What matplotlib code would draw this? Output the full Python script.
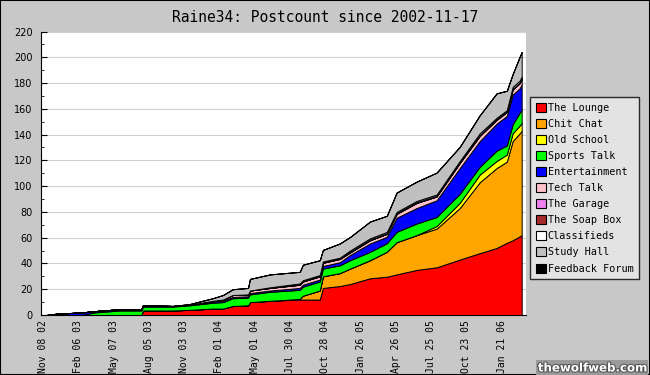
import matplotlib
matplotlib.use("Agg")
import matplotlib.pyplot as plt
import matplotlib.dates as mdates
import matplotlib.patheffects as pe
from matplotlib.patches import Rectangle
import numpy as np
import datetime as dt

title = "Raine34: Postcount since 2002-11-17"

dates = ["2002-11-17", "2002-12-13", "2003-02-15", "2003-03-20", "2003-05-23",
         "2003-07-17", "2003-07-21", "2003-10-05", "2003-11-17", "2004-01-15",
         "2004-02-10", "2004-03-06", "2004-04-14", "2004-04-19", "2004-06-09",
         "2004-08-24", "2004-09-01", "2004-10-14", "2004-10-22", "2004-12-04",
         "2004-12-30", "2005-02-19", "2005-04-03", "2005-04-28", "2005-06-18",
         "2005-08-08", "2005-10-06", "2005-11-26", "2006-01-08", "2006-02-03",
         "2006-02-18", "2006-03-08", "2006-03-13"]

lounge = [0, 0, 0, 0, 0, 0, 3.5, 3.5, 4, 5, 5, 7, 7.5, 10, 11, 12, 12, 12, 21, 22.5,
          24, 28.5, 29.7, 31.5, 35, 37, 43, 48, 52, 56, 58, 61, 62]
chit_chat = [0, 0, 0, 0, 0, 0, 0, 0, 0, 0, 0, 0, 0, 0, 0, 0.5, 3, 7, 9, 10,
             12, 14, 19.4, 25, 27, 30, 40, 55, 62, 63, 77, 80, 81]
old_school = [0, 0, 0, 0, 0, 0, 0, 0, 0, 0, 0, 0, 0, 0, 0, 0, 0, 0, 0, 0,
              0, 0, 0, 0, 0, 2, 4, 6, 5.5, 5.5, 6, 6, 6]
sports_talk = [0, 0, 0, 2, 3.5, 3.5, 3, 3, 3.5, 4.5, 5, 6, 6, 6, 7, 7, 7, 7, 6, 6,
               6.5, 6.5, 6.6, 8, 9, 7, 7, 6, 8, 7, 7, 10, 10]
entertainment = [0, 1, 2, 1, 1, 1, 1, 0.5, 0.5, 1, 1, 1, 1, 1, 1, 1.5, 1.5, 1.5, 2, 2.5,
                 4, 6.5, 5, 11, 12, 13, 20, 20, 21, 23, 23, 19, 20]
tech_talk = [0, 0, 0, 0, 0, 0, 0, 0, 0, 0.5, 1, 1.5, 1.5, 2, 2, 2.5, 2.5, 2.5, 2.5, 2.5,
             2, 2.5, 2.3, 3, 4, 3, 4, 4, 3, 3, 4, 4, 4]
the_garage = [0] * 33
soap_box = [0, 0, 0, 0, 0, 0, 0, 0, 0, 0, 0, 0, 0, 0, 0, 0.5, 0.5, 0.5, 0.5, 0.5,
            0.5, 0.5, 0.5, 0.5, 0.5, 0.5, 0.5, 0.5, 0.5, 0.5, 0.5, 0.5, 0.5]
classifieds = [0, 0, 0, 0, 0, 0, 0, 0, 0, 0, 0, 0, 0, 0, 0.5, 0.5, 0.5, 0.5, 0.5, 0.5,
               1, 1, 1, 1, 1, 1, 1, 1.5, 1, 1, 1.5, 1.5, 1.5]
study_hall = [0, 0, 0, 0, 0, 0, 0, 0, 0.5, 2, 3.5, 4.5, 5, 9, 10, 9, 12, 11.5, 9, 11,
              10.5, 13, 12.5, 15, 15, 17, 11, 14, 19, 15, 10, 18.5, 19]
feedback = [0] * 33

series_names = ["The Lounge", "Chit Chat", "Old School", "Sports Talk", "Entertainment",
                "Tech Talk", "The Garage", "The Soap Box", "Classifieds", "Study Hall",
                "Feedback Forum"]
series = [lounge, chit_chat, old_school, sports_talk, entertainment, tech_talk,
          the_garage, soap_box, classifieds, study_hall, feedback]
colors = ["#ff0000", "#ffa500", "#ffff00", "#00ff00", "#0000ff", "#ffc0cb",
          "#ee82ee", "#a52a2a", "#ffffff", "#c0c0c0", "#000000"]

tick_start = "2002-11-08"
tick_step_days = 90
tick_count = 14

bg = "#c8c8c8"
fig = plt.figure(figsize=(6.5, 3.75), dpi=100, facecolor=bg)
ax = fig.add_axes([41/650, 1-315/375, 485/650, (315-31.5)/375])
ax.set_facecolor("white")
ax.set_axisbelow(True)

x = [dt.datetime.strptime(d, "%Y-%m-%d") for d in dates]
ax.stackplot(x, *series, colors=colors, edgecolor="black", linewidth=0.7, zorder=2)

ax.set_ylim(0, 220)
ax.set_xlim(dt.datetime(2002, 11, 3), dt.datetime(2006, 3, 24))
ax.set_yticks(np.arange(0, 221, 20))
ax.set_yticks(np.arange(0, 221, 10), minor=True)
ax.yaxis.grid(True, which="major", color="#d0d0d0", linewidth=0.8, zorder=0.5)

t0 = dt.datetime.strptime(tick_start, "%Y-%m-%d")
ticks = [t0 + dt.timedelta(days=tick_step_days * i) for i in range(tick_count)]
ax.set_xticks(ticks)
ax.xaxis.set_major_formatter(mdates.DateFormatter("%b %d %y"))
for lab in ax.get_xticklabels():
    lab.set_rotation(90)
    lab.set_fontfamily("DejaVu Sans Mono")
    lab.set_fontsize(7)
ax.tick_params(axis="x", length=0, pad=4)
ax.tick_params(axis="y", which="major", direction="in", length=4, labelsize=7, pad=6)
ax.tick_params(axis="y", which="minor", direction="in", length=2)
for lab in ax.get_yticklabels():
    lab.set_fontfamily("DejaVu Sans")

for s in ["top", "right"]:
    ax.spines[s].set_visible(False)
ax.spines["left"].set_color("black")
ax.spines["bottom"].set_color("black")
ax.spines["left"].set_zorder(3)
ax.spines["bottom"].set_zorder(3)

fig.text(0.5, 1-18/375, title, ha="center", va="center",
         fontfamily="DejaVu Sans Mono", fontsize=10.5)

handles = [Rectangle((0, 0), 1, 1, facecolor=c, edgecolor="black", linewidth=0.8)
           for c in colors]
leg = fig.legend(handles, series_names, loc="upper left",
                 bbox_to_anchor=(530/650, 1-97/375), frameon=True,
                 prop={"family": "DejaVu Sans Mono", "size": 7.3},
                 handlelength=1.0, handleheight=1.0, handletextpad=0.2,
                 labelspacing=0.6, borderpad=0.55, borderaxespad=0, fancybox=False)
leg.get_frame().set_facecolor("#ebebeb")
leg.get_frame().set_edgecolor("black")
leg.get_frame().set_linewidth(1.0)

wm = fig.text(647/650, 1-368/375, "thewolfweb.com", ha="right", va="center",
              fontsize=8.5, fontweight="bold", color="white", fontfamily="DejaVu Sans",
              bbox=dict(facecolor="#9a9a9a", edgecolor="none", pad=1))
wm.set_path_effects([pe.withStroke(linewidth=1.5, foreground="#555555")])

fig.patches.append(Rectangle((0, 0), 1, 1, transform=fig.transFigure, fill=False,
                             edgecolor="black", linewidth=1.5))

fig.savefig("out.png", dpi=100, facecolor=bg)
